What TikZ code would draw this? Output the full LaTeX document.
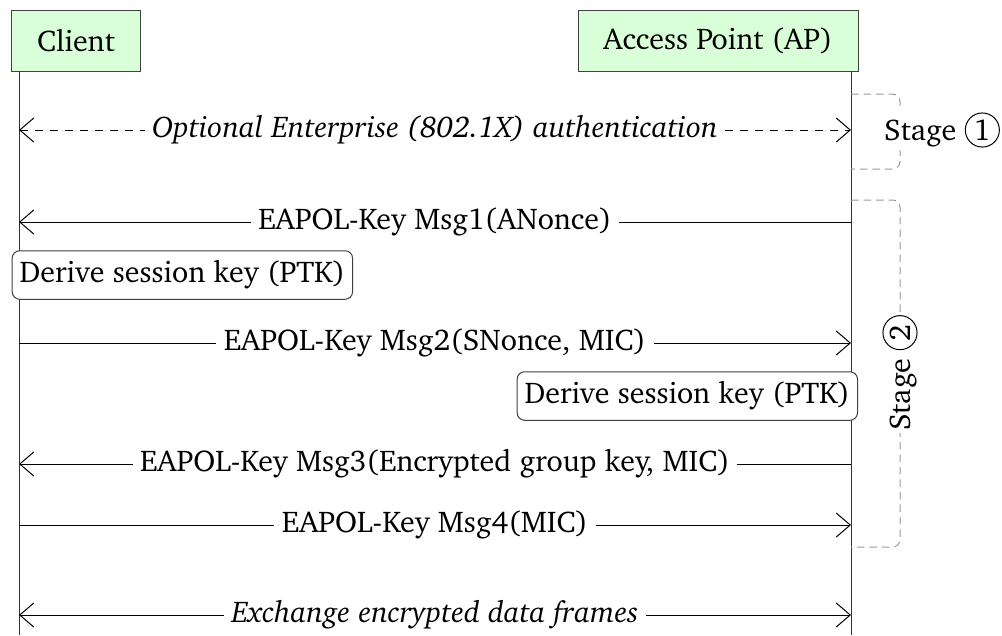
\documentclass[tikz,border=0pt]{standalone}
\usepackage[T1]{fontenc}
\usepackage{charter}
\usetikzlibrary{arrows.meta}

\newcommand{\stagenum}[1]{\tikz[baseline=(n.base)]\node[circle,draw,thin,inner sep=1.1pt](n){#1};}

\begin{document}
\begin{tikzpicture}[x=0.4pt, y=-0.4pt, font=\large]
  \tikzstyle{actor}=[draw=black!75, fill=green!15, minimum height=24.4pt, inner sep=0pt]
  \tikzstyle{life}=[black!80]
  \tikzstyle{msg}=[-{Straight Barb[length=5.6pt,width=9.6pt]}]
  \tikzstyle{both}=[{Straight Barb[length=5.6pt,width=9.6pt]}-{Straight Barb[length=5.6pt,width=9.6pt]}]
  \tikzstyle{lbl}=[fill=white, inner sep=3pt]
  \tikzstyle{note}=[draw=black!75, fill=white, rounded corners=3pt, inner xsep=3pt, inner ysep=4pt]
  \tikzstyle{bracket}=[gray!80, dash pattern=on 3pt off 2pt, rounded corners=3pt]

  \useasboundingbox (0,0) rectangle (1002,635);

  % participants
  \node[actor, minimum width=51.6pt] (client) at (76,40.5)  {Client};
  \node[actor, minimum width=112pt]  (ap)     at (718,40.5) {Access Point (AP)};

  \coordinate (ct) at (19,71);
  \coordinate (cb) at (19,635);
  \coordinate (at) at (851,71);
  \coordinate (ab) at (851,635);
  \draw[life] (ct) -- (cb);
  \draw[life] (at) -- (ab);

  % message rows
  \coordinate (c0) at (19,130);  \coordinate (a0) at (851,130);
  \coordinate (c1) at (19,222);  \coordinate (a1) at (851,222);
  \coordinate (c2) at (19,343);  \coordinate (a2) at (851,343);
  \coordinate (c3) at (19,464);  \coordinate (a3) at (851,464);
  \coordinate (c4) at (19,525);  \coordinate (a4) at (851,525);
  \coordinate (c5) at (19,615);  \coordinate (a5) at (851,615);

  \draw[both, dashed] (c0) -- node[lbl] {\itshape Optional Enterprise (802.1X) authentication} (a0);
  \draw[msg] (a1) -- node[lbl] {EAPOL-Key Msg1(ANonce)} (c1);
  \node[note, anchor=west] (dc) at (11.7,275) {Derive session key (PTK)};
  \draw[msg] (c2) -- node[lbl] {EAPOL-Key Msg2(SNonce, MIC)} (a2);
  \node[note, anchor=east] (da) at (858,396) {Derive session key (PTK)};
  \draw[msg] (a3) -- node[lbl] {EAPOL-Key Msg3(Encrypted group key, MIC)} (c3);
  \draw[msg] (c4) -- node[lbl] {EAPOL-Key Msg4(MIC)} (a4);
  \draw[both] (c5) -- node[lbl] {\itshape Exchange encrypted data frames} (a5);

  % stages
  \coordinate (s1a) at (851,94);  \coordinate (s1b) at (900,94);
  \coordinate (s1c) at (900,169); \coordinate (s1d) at (851,169);
  \draw[bracket] (s1a) -- (s1b) -- (s1c) -- (s1d);
  \node[lbl, inner sep=1pt] (st1) at (942,130) {Stage \stagenum{1}};

  \coordinate (s2a) at (851,200); \coordinate (s2b) at (900,200);
  \coordinate (s2c) at (900,547); \coordinate (s2d) at (851,547);
  \draw[bracket] (s2a) -- (s2b) -- (s2c) -- (s2d);
  \node[lbl, inner sep=1pt, rotate=90] (st2) at (900,373) {Stage \stagenum{2}};
\end{tikzpicture}
\end{document}
